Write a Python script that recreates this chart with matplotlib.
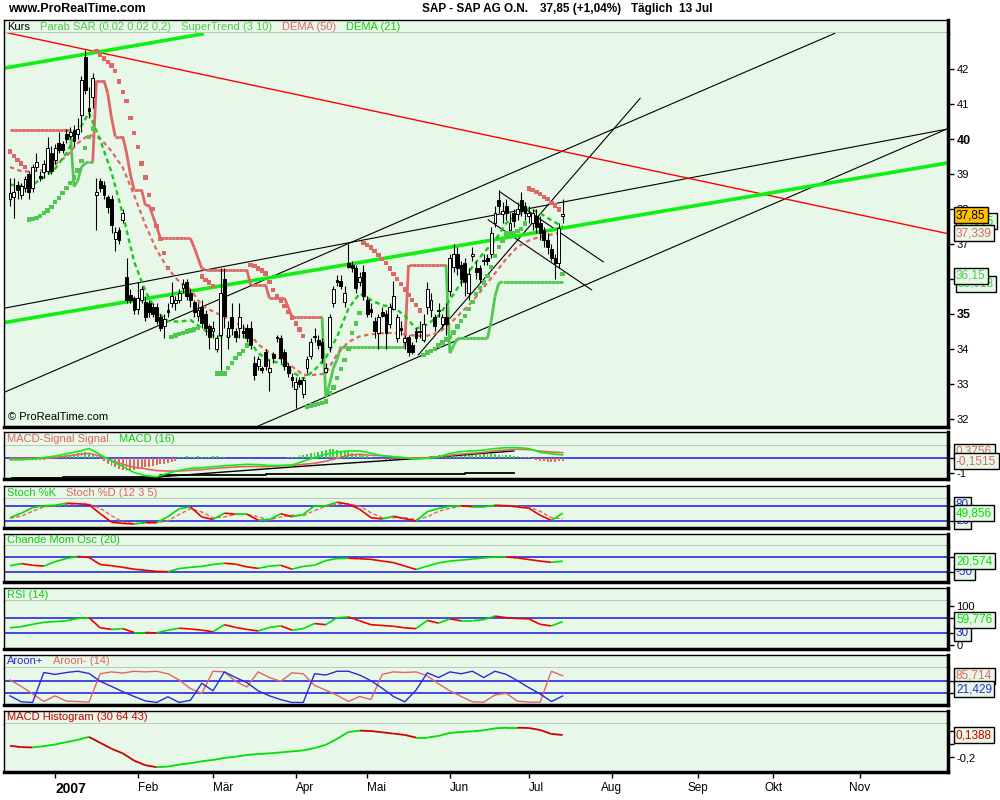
import numpy as np
import pandas as pd
import matplotlib
matplotlib.use("Agg")
import matplotlib.pyplot as plt
from matplotlib.collections import LineCollection

plt.rcParams['font.family'] = ['Liberation Sans', 'DejaVu Sans']

W, H = 1000, 800
BG = "#e8f8e8"
SALMON = "#e06666"
LGREEN = "#50c850"
BGREEN = "#11ee11"
DGREEN = "#11cc11"
UPG = "#00dd00"
DNR = "#ee0000"
BLUE = "#2a2ad8"

# ---- trading days (Xetra, holidays removed) ----
holidays = pd.to_datetime(["2006-12-25", "2006-12-26", "2006-12-29", "2007-01-01",
                           "2007-04-06", "2007-04-09", "2007-05-01"])
days = pd.bdate_range("2006-12-11", "2007-07-13")
days = days[~days.isin(holidays)]
future_days = pd.bdate_range("2007-07-16", "2007-12-31")
all_days = days.append(future_days)
month_names = ["2007", "Feb", "Mär", "Apr", "Mai", "Jun", "Jul", "Aug", "Sep", "Okt", "Nov"]

# ---- daily candles ----
opens = [38.30, 38.35, 38.70, 38.40, 38.60, 39.00, 38.60, 39.20, 38.95, 39.05,
         39.10, 39.60, 39.40, 39.90, 39.85, 40.15, 40.10, 40.25, 40.15, 40.70,
         42.35, 40.90, 41.20, 38.40, 38.80, 38.70, 38.35, 38.30, 37.15, 37.40,
         37.70, 36.05, 35.55, 35.45, 35.15, 35.40, 35.35, 35.30, 35.20, 35.20,
         34.90, 34.65, 35.10, 35.30, 35.30, 35.40, 35.75, 35.90, 35.60, 35.35,
         34.95, 35.20, 35.00, 34.65, 34.50, 34.00, 34.40, 36.00, 34.35, 34.90,
         34.50, 34.60, 34.50, 34.60, 34.60, 33.60, 33.50, 33.45, 33.90, 33.35,
         33.85, 34.30, 34.30, 33.90, 33.50, 33.20, 32.85, 33.10, 32.70, 33.45,
         33.80, 34.33, 34.25, 34.20, 33.35, 34.05, 35.30, 35.97, 35.95, 35.35,
         36.45, 36.40, 36.30, 35.90, 36.20, 35.40, 35.15, 34.80, 34.45, 35.05,
         35.00, 34.70, 35.15, 34.30, 34.60, 34.20, 34.35, 34.10, 34.50, 34.48,
         34.25, 35.20, 35.10, 34.90, 35.08, 34.70, 34.90, 35.65, 36.35, 36.70,
         36.40, 36.45, 35.60, 36.65, 36.30, 36.30, 36.50, 36.60, 36.70, 37.60,
         38.25, 37.85, 38.10, 37.40, 37.90, 37.85, 38.25, 38.10, 37.80, 37.60,
         37.80, 37.60, 37.40, 37.10, 36.85, 36.60, 36.45, 37.80]
highs = [38.90, 38.90, 38.80, 38.75, 38.95, 39.10, 39.30, 39.60, 39.10, 39.40,
         40.05, 39.80, 39.85, 40.20, 39.95, 40.30, 40.35, 40.40, 40.60, 41.80,
         42.55, 41.50, 41.90, 38.90, 38.90, 38.80, 38.40, 38.40, 37.50, 37.50,
         38.00, 36.60, 35.70, 35.50, 35.90, 35.80, 35.50, 35.40, 35.30, 35.30,
         35.00, 35.00, 35.30, 35.90, 35.50, 35.70, 36.00, 36.00, 35.70, 35.40,
         35.30, 35.40, 35.10, 34.70, 34.80, 34.40, 36.30, 36.30, 34.80, 35.30,
         34.60, 35.30, 34.70, 34.70, 34.80, 33.80, 33.80, 33.50, 34.00, 33.70,
         33.90, 34.40, 34.40, 34.00, 33.60, 33.30, 33.20, 33.20, 33.20, 33.80,
         34.30, 34.60, 34.40, 34.30, 33.60, 35.00, 35.80, 36.10, 36.10, 35.80,
         37.00, 36.50, 36.40, 36.20, 36.40, 35.50, 35.30, 34.90, 35.00, 35.20,
         35.10, 35.30, 35.95, 35.00, 34.80, 34.40, 34.40, 34.20, 34.60, 34.80,
         35.00, 35.90, 35.60, 35.00, 35.30, 35.00, 35.30, 36.70, 37.00, 36.90,
         36.50, 36.60, 36.30, 36.90, 36.50, 36.40, 36.70, 36.70, 37.50, 38.10,
         38.55, 38.20, 38.30, 37.90, 38.00, 38.20, 38.50, 38.20, 38.10, 38.00,
         38.00, 37.80, 37.50, 37.30, 37.00, 36.70, 37.60, 38.30]
lows = [38.10, 37.75, 38.30, 38.30, 38.50, 38.30, 38.50, 39.10, 38.80, 38.90,
        39.00, 39.00, 39.30, 39.60, 39.60, 39.90, 40.00, 39.80, 40.00, 40.20,
        41.30, 40.60, 40.90, 37.40, 38.50, 38.30, 37.90, 37.30, 36.80, 37.00,
        37.60, 35.30, 35.30, 35.00, 35.00, 35.30, 34.80, 34.90, 34.90, 34.70,
        34.50, 34.30, 34.90, 35.20, 35.10, 35.30, 35.60, 35.40, 35.20, 34.90,
        34.80, 34.60, 34.40, 34.00, 34.30, 33.90, 33.40, 34.60, 34.00, 34.40,
        34.20, 34.30, 34.30, 34.20, 34.00, 33.10, 33.40, 33.30, 33.40, 32.80,
        33.60, 34.20, 33.60, 33.40, 33.20, 32.90, 32.30, 32.90, 32.60, 33.30,
        33.70, 34.20, 34.00, 33.60, 33.30, 33.90, 35.20, 35.80, 35.70, 35.20,
        36.30, 36.20, 35.60, 35.80, 35.40, 34.90, 34.90, 34.30, 34.00, 34.90,
        34.00, 34.60, 35.10, 34.20, 34.40, 34.00, 33.80, 33.85, 34.20, 34.30,
        34.20, 35.00, 34.90, 34.50, 34.90, 34.60, 34.40, 35.50, 36.20, 36.10,
        35.80, 35.50, 35.40, 36.50, 36.00, 35.90, 36.40, 36.40, 36.60, 37.50,
        37.90, 37.60, 37.70, 37.30, 37.50, 37.70, 37.80, 37.70, 37.60, 37.40,
        37.30, 37.10, 36.90, 36.70, 36.50, 36.00, 36.30, 37.60]
closes = [38.45, 38.50, 38.55, 38.65, 38.85, 38.50, 39.20, 39.35, 38.90, 39.30,
          39.75, 39.10, 39.75, 39.70, 39.70, 40.00, 40.20, 39.95, 40.30, 41.70,
          41.40, 40.80, 41.75, 38.50, 38.60, 38.40, 38.05, 37.55, 37.35, 37.10,
          37.90, 35.40, 35.40, 35.10, 35.45, 35.70, 34.90, 35.05, 35.00, 34.80,
          34.60, 34.85, 35.05, 35.50, 35.40, 35.60, 35.85, 35.50, 35.40, 35.05,
          35.10, 34.75, 34.60, 34.35, 34.60, 34.30, 35.60, 34.95, 34.60, 34.60,
          34.35, 34.90, 34.45, 34.30, 34.10, 33.25, 33.70, 33.40, 33.50, 33.45,
          33.75, 34.35, 33.75, 33.50, 33.30, 33.10, 33.05, 33.00, 33.10, 33.70,
          34.20, 34.36, 34.10, 33.75, 33.45, 34.90, 35.70, 35.90, 35.80, 35.60,
          36.35, 36.30, 35.75, 36.05, 35.50, 35.00, 35.05, 34.50, 34.90, 34.95,
          34.45, 35.20, 35.50, 34.90, 34.55, 34.30, 33.90, 33.90, 34.30, 34.52,
          34.70, 35.70, 35.40, 34.65, 35.12, 34.90, 34.70, 36.60, 36.70, 36.30,
          36.00, 35.90, 36.15, 36.70, 36.20, 36.00, 36.55, 36.50, 37.30, 37.90,
          38.10, 37.95, 37.90, 37.60, 37.65, 38.00, 37.95, 37.90, 37.90, 37.90,
          37.50, 37.30, 37.10, 36.90, 36.60, 36.45, 37.46, 37.85]

# Parabolic SAR, one dot per candle
sar = [39.64, 39.51, 39.40, 39.30, 39.20,
       37.70, 37.72, 37.75, 37.80, 37.88, 37.96, 38.06, 38.20, 38.32, 38.45,
       38.60, 38.75, 38.90, 39.10, 39.38, 39.75, 40.05, 40.30,
       42.52, 42.40, 42.30, 42.20, 42.10, 41.94, 41.64, 41.35, 41.08, 40.60,
       40.18, 39.78, 39.30, 38.90, 38.40, 38.00, 37.52, 37.14, 36.75, 36.31,
       34.35, 34.38, 34.42, 34.45, 34.50, 34.53, 34.56, 34.60,
       36.07, 35.98, 35.90, 35.80,
       33.30, 33.30, 33.30, 33.45, 33.60, 33.75, 33.85, 33.95, 34.10,
       36.40, 36.37, 36.30, 36.24, 36.16, 35.92, 35.69, 35.50, 35.38, 35.22,
       35.05, 34.90, 34.73, 34.56, 34.37,
       32.35, 32.38, 32.40, 32.43, 32.46, 32.50, 32.74, 32.90, 33.17, 33.43,
       33.69, 34.00, 34.46, 34.73, 35.03,
       37.02, 36.97, 36.90, 36.80, 36.69, 36.58, 36.45, 36.30, 36.15, 36.00,
       35.85, 35.70, 35.55, 35.40, 35.25, 35.10,
       33.83, 33.90, 33.95, 34.00, 34.10, 34.18, 34.27, 34.35, 34.47, 34.64,
       34.80, 34.95, 35.15, 35.35, 35.57, 35.74, 35.90, 36.09, 36.35, 36.65,
       36.92, 37.10, 37.30, 37.30, 37.32, 37.38, 37.42, 37.59,
       38.59, 38.55, 38.48, 38.42, 38.35, 38.28, 38.18, 38.10, 37.99,
       36.15]

# SuperTrend (3 10), one value per candle
supertrend = [40.26, 40.26, 40.26, 40.26, 40.26, 40.26, 40.26, 40.26, 40.26, 40.26,
              40.26, 40.26, 40.26, 40.26, 40.26, 40.26, 40.26,
              38.64, 38.80, 39.20, 39.30, 39.35, 39.35,
              41.67, 41.67, 41.67, 41.30, 40.60, 40.07, 40.07, 40.07, 39.60, 39.00,
              38.54, 38.54, 38.54, 38.11, 38.11, 37.80, 37.50, 37.16,
              37.16, 37.16, 37.16, 37.16, 37.16, 37.16, 37.16, 37.16,
              36.90, 36.60, 36.30,
              36.26, 36.26, 36.26, 36.26, 36.26, 36.26, 36.26, 36.26, 36.26, 36.26,
              36.26, 36.26,
              35.83, 35.83, 35.83, 35.83, 35.83,
              35.45, 35.45, 35.45, 35.45, 35.45, 35.20, 34.90,
              34.90, 34.90, 34.90, 34.90, 34.90, 34.90, 34.90, 34.90,
              32.64, 33.00, 33.45, 33.70, 34.07,
              34.07, 34.07, 34.07, 34.07, 34.07, 34.07, 34.07, 34.07, 34.07, 34.07,
              34.07, 34.07, 34.07, 34.07, 34.07, 34.07, 34.07,
              36.40, 36.40, 36.40, 36.40, 36.40, 36.40, 36.40, 36.40, 36.40, 36.40,
              36.40,
              33.88, 34.10, 34.30, 34.30, 34.30, 34.30, 34.30, 34.30, 34.30, 34.30,
              34.30, 34.80, 35.50, 35.88,
              35.92, 35.92, 35.92, 35.92, 35.92, 35.92, 35.92, 35.92, 35.92, 35.92,
              35.92, 35.92, 35.92, 35.92, 35.92, 35.92, 35.92]

# indicators read every third trading day
dema21 = [38.70, 38.65, 38.70, 38.90, 39.15, 39.60, 40.20, 40.75, 39.97, 39.05,
          37.85, 36.50, 35.65, 35.07, 34.80, 34.78, 34.83, 34.60, 34.37, 34.37,
          34.36, 34.35, 33.88, 33.67, 33.59, 33.35, 33.15, 33.40, 33.75, 34.35,
          35.15, 35.59, 35.40, 35.25, 35.20, 34.95, 34.58, 34.70, 34.95, 35.40,
          35.90, 36.35, 36.75, 37.10, 37.60, 37.83, 38.02, 37.88, 37.68, 37.50]
dema50 = [39.20, 39.08, 39.07, 39.12, 39.28, 39.50, 39.88, 40.12, 40.02, 39.65,
          39.18, 38.40, 37.55, 36.83, 36.30, 35.92, 35.70, 35.25, 35.07, 34.92,
          34.75, 34.55, 34.13, 33.90, 33.72, 33.50, 33.26, 33.26, 33.30, 33.85,
          34.20, 34.36, 34.42, 34.45, 34.46, 34.42, 34.38, 34.38, 34.47, 34.72,
          35.04, 35.36, 35.76, 36.16, 36.58, 36.92, 37.10, 37.21, 37.27, 37.34]
macd_line = [-0.10, -0.10, -0.05, 0.05, 0.15, 0.30, 0.45, 0.65, 0.25, -0.20,
             -0.55, -0.95, -1.15, -1.23, -1.00, -0.80, -0.67, -0.63, -0.56, -0.50,
             -0.45, -0.40, -0.42, -0.49, -0.47, -0.45, -0.20, 0.05, 0.28, 0.42,
             0.49, 0.49, 0.35, 0.17, 0.10, 0.04, -0.05, 0.00, 0.10, 0.32,
             0.45, 0.49, 0.55, 0.65, 0.71, 0.71, 0.65, 0.40, 0.30, 0.22]
signal_line = [0.00, 0.00, 0.00, 0.00, 0.05, 0.15, 0.25, 0.33, 0.15, -0.15,
               -0.40, -0.60, -0.70, -0.82, -0.85, -0.85, -0.80, -0.76, -0.68, -0.63,
               -0.58, -0.55, -0.55, -0.55, -0.50, -0.48, -0.40, -0.33, -0.20, 0.00,
               0.20, 0.27, 0.20, 0.18, 0.10, 0.03, 0.03, 0.04, 0.10, 0.20,
               0.28, 0.33, 0.40, 0.50, 0.55, 0.60, 0.58, 0.48, 0.42, 0.376]
stoch_k = [32, 50, 72, 80, 82, 90, 88, 84, 48, 14, 9, 7, 13, 12, 36, 68, 75, 35, 25, 50,
           46, 46, 22, 24, 48, 36, 45, 80, 80, 94, 86, 66, 32, 27, 38, 28, 19, 56, 69, 78,
           80, 76, 76, 82, 80, 75, 70, 42, 21, 49.9]
stoch_d = [30, 38, 58, 75, 80, 84, 88, 86, 70, 40, 15, 8, 10, 12, 20, 45, 68, 55, 32, 35,
           45, 46, 35, 24, 35, 42, 40, 60, 78, 86, 88, 78, 52, 32, 32, 32, 25, 35, 58, 70,
           78, 78, 76, 78, 80, 78, 74, 58, 32, 28]
chande = [-8, 6, -5, -10, 18, 38, 52, 45, 0, -8, -18, -30, -37, -44, -46, -26, -18, -12, 0, 8,
          2, -15, -25, -10, -5, -30, -12, -4, 25, 38, 40, 37, 33, 22, 12, -10, -32, -10, 10, 22,
          28, 35, 42, 48, 48, 42, 32, 22, 14, 20.6]
rsi = [44, 47, 53, 58, 60, 62, 68, 70, 44, 40, 42, 32, 32, 31, 38, 43, 41, 38, 34, 52,
       45, 40, 36, 45, 49, 38, 42, 55, 52, 70, 72, 62, 52, 50, 48, 44, 42, 63, 56, 67,
       62, 62, 65, 74, 70, 68, 67, 53, 49, 59.8]
aroon_up = [22, 3, 1, 96, 90, 96, 100, 93, 68, 52, 35, 20, 6, 1, 19, 1, 8, 62, 38, 98,
            80, 64, 38, 22, 10, 1, 1, 92, 88, 100, 100, 88, 70, 46, 20, 3, 40, 95, 80, 98,
            92, 100, 80, 100, 90, 70, 48, 28, 4, 21.4]
aroon_down = [72, 52, 28, 4, 22, 5, 4, 2, 92, 98, 94, 100, 98, 100, 92, 72, 45, 30, 100, 98,
              68, 50, 98, 80, 68, 95, 92, 55, 40, 24, 4, 20, 10, 90, 98, 96, 98, 85, 60, 38,
              20, 3, 2, 25, 30, 5, 2, 2, 100, 85.7]
macd_hist_long = [-0.025, -0.045, -0.05, -0.03, -0.005, 0.03, 0.065, 0.11, 0.02, -0.07,
                  -0.14, -0.25, -0.32, -0.35, -0.34, -0.31, -0.29, -0.26, -0.24, -0.21,
                  -0.19, -0.165, -0.15, -0.14, -0.125, -0.11, -0.095, -0.06, -0.01, 0.08,
                  0.185, 0.205, 0.20, 0.18, 0.16, 0.14, 0.10, 0.10, 0.125, 0.17,
                  0.185, 0.195, 0.21, 0.24, 0.25, 0.25, 0.245, 0.215, 0.155, 0.139]

# MACD - Signal bars, one per candle
macd_bars = [-0.08, -0.10, -0.05, -0.10, -0.12, -0.10, -0.08, -0.10, -0.12, -0.08, -0.05,
             0.08, 0.12, 0.15, 0.15, 0.20, 0.25, 0.30, 0.35, 0.40, 0.40, 0.35, 0.30, 0.15, -0.05,
             -0.20, -0.35, -0.50, -0.60, -0.70, -0.80, -0.85, -0.80, -0.75, -0.70,
             -0.65, -0.60, -0.55, -0.50, -0.45, -0.40, -0.35, -0.30, -0.25, -0.20,
             0.10, 0.12, 0.15, 0.10, 0.12, 0.15, 0.12, 0.10, 0.12, 0.15, 0.15, 0.12, 0.10, 0.05,
             0.02, 0.00, 0.03, 0.05, 0.02, 0.00, 0.04, 0.05,
             0.00, 0.03, 0.05, 0.05, 0.00, 0.00, 0.05, 0.08, 0.10, 0.12,
             0.20, 0.25, 0.30, 0.35, 0.40, 0.45, 0.50, 0.55, 0.60, 0.60, 0.55, 0.50, 0.45, 0.40,
             0.35, 0.30, 0.25, 0.20, 0.15, 0.10, 0.05, 0.00,
             -0.05, -0.08, -0.10, -0.12, -0.10, -0.10, -0.08, -0.06, -0.04, -0.02,
             0.05, 0.10, 0.12, 0.15, 0.18, 0.20, 0.22, 0.20, 0.20, 0.22,
             0.25, 0.25, 0.22, 0.20, 0.20, 0.22, 0.25, 0.28, 0.30, 0.30,
             0.28, 0.25, 0.22, 0.20, 0.20, 0.18, 0.15, 0.12, 0.10, 0.08,
             -0.05, -0.10, -0.15, -0.20, -0.22, -0.25, -0.22, -0.18, -0.15]
# black lines drawn in the MACD window
macd_base_idx = [0.5, 14, 40, 68, 94, 121, 134]
macd_base_val = [-1.33, -1.27, -1.11, -1.07, -1.02, -0.98, -0.98]
macd_rise_idx = [40, 76, 109, 134]
macd_rise_val = [-1.23, -0.56, 0.0, 0.49]

# hand drawn trend lines: (start index, start price, end index, end price)
red_lines = [(-0.5, 43.03, 249.7, 37.29)]
green_lines = [(-1.8, 42.02, 51.1, 43.00), (-1.8, 34.75, 249.1, 39.31)]
black_lines = [(-1.8, 35.16, 249.1, 40.28), (-1.8, 32.75, 219.4, 43.02),
               (65.6, 31.78, 249.1, 40.28), (108.6, 33.83, 167.6, 41.16),
               (130.3, 38.49, 157.8, 36.49), (127.2, 37.69, 154.7, 35.69)]

n = len(closes)
idx = np.arange(n)
sidx = np.arange(0, n, 3)
XMIN, XMAX = -1.6, 249.5

fig = plt.figure(figsize=(10, 8), dpi=100)
fig.patch.set_facecolor("white")
renderer = fig.canvas.get_renderer()


def rect(x0, y0, x1, y1):
    return [x0 / W, 1 - y1 / H, (x1 - x0) / W, (y1 - y0) / H]


def make_panel(top, sep, bottom, parts, ylim):
    hax = fig.add_axes(rect(4, top, 948, sep))
    ax = fig.add_axes(rect(4, sep, 948, bottom))
    for a in (hax, ax):
        a.set_facecolor(BG)
        a.set_xticks([])
        a.set_yticks([])
        for s in a.spines.values():
            s.set_color("black")
            s.set_linewidth(1)
        a.spines["right"].set_linewidth(2.5)
    ax.spines["top"].set_visible(False)
    ax.spines["bottom"].set_linewidth(2.5)
    ax.set_xlim(XMIN, XMAX)
    ax.set_ylim(*ylim)
    # header text pieces, laid out one after the other
    xp = 7
    for text, col in parts:
        t = fig.text(xp / W, 1 - (top + sep) / 2 / H, text, color=col, fontsize=8,
                     va="center", ha="left")
        bb = t.get_window_extent(renderer)
        xp += bb.width + 10
    ax.yaxis.tick_right()
    ax.tick_params(axis="y", direction="out", length=4, width=1, labelsize=8, pad=2)
    return ax


def updown(ax, xs, ys, lw=1.2, up=UPG, down=DNR, z=3):
    pts = np.column_stack([xs, ys])
    segs = np.stack([pts[:-1], pts[1:]], axis=1)
    cols = [up if b >= a else down for a, b in zip(ys[:-1], ys[1:])]
    ax.add_collection(LineCollection(segs, colors=cols, linewidths=lw, zorder=z))


def vbox(y, text, color, fc=BG, x=956, size=8.5):
    fig.text(x / W, 1 - y / H, text, color=color, fontsize=size, va="center", ha="left",
             bbox=dict(boxstyle="square,pad=0.2", fc=fc, ec="black", lw=1))


# ---- main price window ----
ax = make_panel(20, 33, 427,
                [("Kurs", "black"), ("Parab SAR (0,02 0,02 0,2)", LGREEN),
                 ("SuperTrend (3 10)", LGREEN), ("DEMA (50)", SALMON),
                 ("DEMA (21)", DGREEN)],
                (31.771, 43.029))

for x0, p0, x1, p1 in black_lines:
    ax.plot([x0, x1], [p0, p1], color="black", lw=0.8, zorder=2)
for x0, p0, x1, p1 in red_lines:
    ax.plot([x0, x1], [p0, p1], color="#ff0000", lw=1.0, zorder=2)
for x0, p0, x1, p1 in green_lines:
    ax.plot([x0, x1], [p0, p1], color=BGREEN, lw=2.6, zorder=2)

st = np.array(supertrend)
cl = np.array(closes)
pts = np.column_stack([idx, st])
segs = np.stack([pts[:-1], pts[1:]], axis=1)
st_cols = [SALMON if st[i] > cl[i] else LGREEN for i in range(1, n)]
ax.add_collection(LineCollection(segs, colors=st_cols, linewidths=2.0, zorder=3))

ax.plot(sidx, dema50, color=SALMON, lw=1.6, ls=(0, (2, 1.5)), zorder=3)
ax.plot(sidx, dema21, color=DGREEN, lw=1.7, ls=(0, (2, 1.5)), zorder=3)

o = np.array(opens)
h = np.array(highs)
lo = np.array(lows)
ax.vlines(idx, lo, h, color="black", lw=0.8, zorder=4)
body_bottom = np.minimum(o, cl)
body_h = np.maximum(np.abs(cl - o), 0.03)
body_col = ["white" if c >= op else "black" for op, c in zip(o, cl)]
ax.bar(idx, body_h, bottom=body_bottom, width=0.75, color=body_col,
       edgecolor="black", linewidth=0.7, zorder=5)

sr = np.array(sar)
sar_cols = [SALMON if s > c else LGREEN for s, c in zip(sr, cl)]
ax.scatter(idx, sr, marker="s", s=10, c=sar_cols, linewidths=0, zorder=6)

ax.set_yticks(range(32, 43))
ax.set_yticklabels([str(v) for v in range(32, 43)])
for lab in ax.get_yticklabels():
    if lab.get_text() in ("40", "35"):
        lab.set_fontweight("bold")
        lab.set_fontsize(9)
ax.text(0.004, 0.012, "© ProRealTime.com", transform=ax.transAxes, fontsize=8,
        va="bottom", ha="left")

# ---- MACD window ----
ax = make_panel(432, 446, 479, [("MACD-Signal Signal", SALMON), ("MACD (16)", DGREEN)],
                (-1.38, 0.82))
ax.axhline(0, color=BLUE, lw=1.2, zorder=1)
bars = np.array(macd_bars)
ax.bar(idx, bars, width=0.5, color=["#44cc44" if v >= 0 else SALMON for v in bars], zorder=2)
ax.plot(macd_base_idx, macd_base_val, color="black", lw=1.3, drawstyle="steps-post", zorder=3)
ax.plot(macd_rise_idx, macd_rise_val, color="black", lw=1.0, zorder=3)
ax.plot(sidx, signal_line, color=SALMON, lw=1.2, zorder=3)
ax.plot(sidx, macd_line, color=BGREEN, lw=1.2, zorder=3)
ax.set_yticks([-1, 0])
ax.set_yticklabels(["-1", "0"])

# ---- Stochastic ----
ax = make_panel(486, 499, 528, [("Stoch %K", DGREEN), ("Stoch %D (12 3 5)", SALMON)],
                (-9.2, 106.8))
ax.axhline(80, color=BLUE, lw=1.2)
ax.axhline(20, color=BLUE, lw=1.2)
ax.plot(sidx, stoch_d, color=SALMON, lw=1.0, ls=(0, (3, 1.5)), zorder=2)
updown(ax, sidx, np.array(stoch_k, dtype=float))
ax.set_yticks([20, 80])
ax.set_yticklabels(["20", "80"])

# ---- Chande ----
ax = make_panel(534, 546, 582, [("Chande Mom Osc (20)", DGREEN)], (-112.2, 118.6))
ax.axhline(50, color=BLUE, lw=1.2)
ax.axhline(-50, color=BLUE, lw=1.2)
updown(ax, sidx, np.array(chande, dtype=float))
ax.set_yticks([-50, 50])
ax.set_yticklabels(["-50", "50"])

# ---- RSI ----
ax = make_panel(588, 601, 649, [("RSI (14)", DGREEN)], (-10.3, 112.8))
ax.axhline(70, color=BLUE, lw=1.2)
ax.axhline(30, color=BLUE, lw=1.2)
updown(ax, sidx, np.array(rsi, dtype=float))
ax.set_yticks([0, 30, 70, 100])
ax.set_yticklabels(["0", "30", "70", "100"])

# ---- Aroon ----
ax = make_panel(655, 668, 705, [("Aroon+", BLUE), ("Aroon- (14)", SALMON)], (-7.1, 110.3))
ax.axhline(70, color=BLUE, lw=1.2)
ax.axhline(30, color=BLUE, lw=1.2)
ax.plot(sidx, aroon_down, color=SALMON, lw=1.0, zorder=2)
ax.plot(sidx, aroon_up, color=BLUE, lw=1.0, zorder=3)
ax.set_yticks([30, 70])
ax.set_yticklabels(["", ""])

# ---- MACD Histogram (long) ----
ax = make_panel(711, 724, 772, [("MACD Histogram (30 64 43)", "#cc0000")], (-0.423, 0.306))
updown(ax, sidx, np.array(macd_hist_long), lw=1.3, up=UPG, down="#cc0000")
ax.set_yticks([-0.2, 0.0, 0.2])
ax.set_yticklabels(["-0,2", "", ""])

month_idx = []
for m in range(1, 12):
    pos = np.where((all_days.year == 2007) & (all_days.month == m))[0]
    month_idx.append(pos[0])
ax.set_xticks(month_idx)
ax.set_xticklabels(month_names)
ax.tick_params(axis="x", direction="out", length=4, width=1, labelsize=8.5, pad=3)
for k, lab in enumerate(ax.get_xticklabels()):
    # months with candles: label starts at the tick; future months: centred
    lab.set_horizontalalignment("left" if k < 7 else "center")
ax.get_xticklabels()[0].set_fontweight("bold")
ax.get_xticklabels()[0].set_fontsize(10)

# ---- value boxes on the right (stacked as in the original) ----
vbox(221, "37,505", UPG, x=958)
vbox(215, "37,85", "black", fc="#ffc000")
vbox(233, "37,339", SALMON)
vbox(284, "35,918", LGREEN, x=958)
vbox(276, "36,15", LGREEN)
vbox(452, "0,3756", SALMON)
vbox(461, "-0,1515", SALMON)
vbox(505, "80", BLUE)
vbox(521, "20", BLUE)
vbox(513, "49,856", UPG)
vbox(572, "-50", BLUE)
vbox(561, "20,574", UPG)
vbox(633, "30", BLUE)
vbox(620, "59,776", UPG)
vbox(676, "85,714", SALMON)
vbox(689, "21,429", BLUE)
vbox(735, "0,1388", "#cc0000")

# ---- top title ----
fig.text(8 / W, 1 - 9 / H, "www.ProRealTime.com", fontsize=9, fontweight="bold",
         va="center", ha="left")
fig.text(422 / W, 1 - 9 / H, "SAP - SAP AG O.N.", fontsize=8.5, fontweight="bold",
         va="center", ha="left")
fig.text(540 / W, 1 - 9 / H, "37,85 (+1,04%)", fontsize=8.5, fontweight="bold",
         va="center", ha="left")
fig.text(631 / W, 1 - 9 / H, "Täglich  13 Jul", fontsize=8.5, fontweight="bold",
         va="center", ha="left")

fig.savefig("out.png", dpi=100, facecolor="white")
